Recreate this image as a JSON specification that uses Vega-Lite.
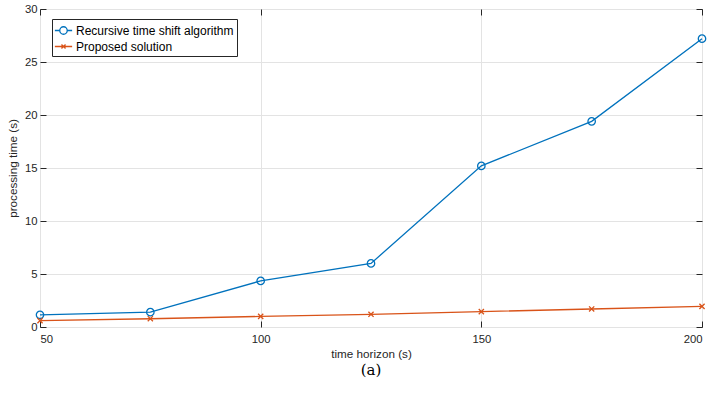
{
  "$schema": "https://vega.github.io/schema/vega-lite/v6.json",
  "width": 662,
  "height": 318,
  "autosize": {"type": "none"},
  "padding": {"left": 40, "top": 9, "right": 7, "bottom": 83},
  "background": "white",
  "config": {
    "font": "Liberation Sans",
    "view": {"stroke": "#262626", "strokeWidth": 1},
    "axis": {
      "labelFont": "Liberation Sans",
      "titleFont": "Liberation Sans",
      "labelFontSize": 11.3,
      "titleFontSize": 11.7,
      "titleFontWeight": "normal",
      "labelColor": "#262626",
      "titleColor": "#262626",
      "domainColor": "#262626",
      "tickColor": "#262626",
      "gridColor": "#e3e3e3",
      "gridWidth": 1
    }
  },
  "title": {
    "text": "(a)",
    "orient": "bottom",
    "font": "DejaVu Serif",
    "fontSize": 15,
    "fontWeight": "normal",
    "color": "#000000",
    "offset": 3
  },
  "data": {
    "values": [
      {"series": "Recursive time shift algorithm", "horizon": 50, "time": 1.15},
      {"series": "Recursive time shift algorithm", "horizon": 75, "time": 1.4},
      {"series": "Recursive time shift algorithm", "horizon": 100, "time": 4.35},
      {"series": "Recursive time shift algorithm", "horizon": 125, "time": 6.0},
      {"series": "Recursive time shift algorithm", "horizon": 150, "time": 15.2},
      {"series": "Recursive time shift algorithm", "horizon": 175, "time": 19.4},
      {"series": "Recursive time shift algorithm", "horizon": 200, "time": 27.2},
      {"series": "Proposed solution", "horizon": 50, "time": 0.6},
      {"series": "Proposed solution", "horizon": 75, "time": 0.78},
      {"series": "Proposed solution", "horizon": 100, "time": 1.0},
      {"series": "Proposed solution", "horizon": 125, "time": 1.2},
      {"series": "Proposed solution", "horizon": 150, "time": 1.45},
      {"series": "Proposed solution", "horizon": 175, "time": 1.7},
      {"series": "Proposed solution", "horizon": 200, "time": 1.95}
    ]
  },
  "resolve": {"axis": {"x": "independent", "y": "independent"}},
  "layer": [
    {
      "mark": {"type": "line", "strokeWidth": 1.3, "clip": false},
      "encoding": {
        "x": {
          "field": "horizon", "type": "quantitative",
          "scale": {"domain": [50, 200], "nice": false},
          "axis": {"title": "time horizon (s)", "values": [50, 100, 150, 200], "tickSize": -6, "labelPadding": 12, "titlePadding": 4, "grid": true, "domain": false}
        },
        "y": {
          "field": "time", "type": "quantitative",
          "scale": {"domain": [0, 30], "nice": false},
          "axis": {"title": "processing time (s)", "values": [0, 5, 10, 15, 20, 25, 30], "tickSize": -6, "labelPadding": 9, "titlePadding": 6, "grid": true, "domain": false}
        },
        "color": {
          "field": "series", "type": "nominal",
          "scale": {"domain": ["Recursive time shift algorithm", "Proposed solution"], "range": ["#0072BD", "#D95319"]},
          "legend": {
            "title": null,
            "orient": "none",
            "legendX": 12,
            "legendY": 10,
            "fillColor": "white",
            "strokeColor": "#262626",
            "padding": 3,
            "labelFont": "Liberation Sans",
            "labelFontSize": 12,
            "labelColor": "#000000",
            "symbolSize": 225,
            "symbolStrokeWidth": 1.3,
            "labelOffset": 4,
            "rowPadding": 1,
            "encode": {
              "symbols": {
                "update": {
                  "shape": {"signal": "datum.value === 'Proposed solution' ? 'M-1.15,0L1.15,0M-0.27,-0.27L0.27,0.27M-0.27,0.27L0.27,-0.27' : 'M-1.15,0L-0.5,0M0.5,0L1.15,0M0.5,0A0.5,0.5 0 1,1 -0.5,0A0.5,0.5 0 1,1 0.5,0'"},
                  "fill": {"value": "transparent"},
                  "strokeWidth": {"value": 1.3}
                }
              }
            }
          }
        },
        "detail": {"field": "series"}
      }
    },
    {
      "transform": [{"filter": "datum.series === 'Recursive time shift algorithm'"}],
      "mark": {"type": "point", "shape": "circle", "filled": false, "strokeWidth": 1.3, "clip": false, "opacity": 1, "size": 55},
      "encoding": {
        "x": {
          "field": "horizon", "type": "quantitative",
          "axis": {"orient": "top", "values": [50, 100, 150, 200], "tickSize": -6, "labels": false, "title": null, "grid": false, "domain": false}
        },
        "y": {
          "field": "time", "type": "quantitative",
          "axis": {"orient": "right", "values": [0, 5, 10, 15, 20, 25, 30], "tickSize": -6, "labels": false, "title": null, "grid": false, "domain": false}
        },
        "color": {"field": "series", "type": "nominal"}
      }
    },
    {
      "transform": [{"filter": "datum.series === 'Proposed solution'"}],
      "mark": {"type": "point", "shape": "M-0.7,-0.7L0.7,0.7M-0.7,0.7L0.7,-0.7", "filled": false, "strokeWidth": 1.3, "clip": false, "opacity": 1, "size": 55},
      "encoding": {
        "x": {"field": "horizon", "type": "quantitative", "axis": null},
        "y": {"field": "time", "type": "quantitative", "axis": null},
        "color": {"field": "series", "type": "nominal"}
      }
    }
  ]
}
